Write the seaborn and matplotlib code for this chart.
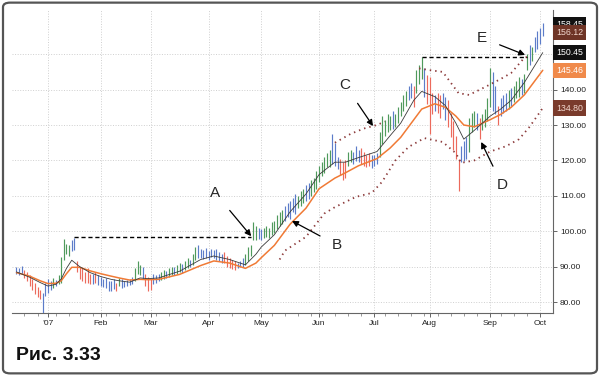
import numpy as np
import pandas as pd
import matplotlib
matplotlib.use("Agg")
import matplotlib.pyplot as plt
import matplotlib.transforms as mtransforms
from matplotlib.patches import FancyBboxPatch
import seaborn as sns

sns.set_theme(style="white")
plt.rcParams['font.family'] = ['Liberation Sans', 'DejaVu Sans']

# daily bars, Dec 13 2006 .. Oct 2 2007
high = [90.0, 89.5, 90.3, 89.0, 88.5, 87.5, 86.5, 85.5, 84.2, 83.5,
        82.5, 85.5, 86.5, 86.0, 86.8, 86.3, 87.5,
        92.8, 97.8, 96.5, 96.0, 97.5, 98.2,
        91.5, 90.0, 89.5, 88.5, 89.5, 88.0,
        87.8, 88.5, 87.5, 87.0, 86.5, 86.8, 86.0, 85.8, 86.5, 85.5,
        86.8, 86.5, 86.0, 86.3, 86.5, 87.0, 89.5, 91.5, 90.5, 90.0,
        88.0, 87.0, 86.5, 88.0, 87.5, 88.0, 88.5, 89.0, 88.8, 89.5,
        89.8, 90.0, 90.5, 91.0, 90.8, 91.5, 92.5, 92.0, 93.5, 95.5,
        96.0, 95.0, 94.8, 95.3, 94.5, 95.0, 94.8, 95.0, 94.0, 93.5,
        94.0, 93.0, 92.5, 92.0, 91.5, 91.0, 91.5, 92.5, 93.5, 95.5,
        96.0, 102.5, 101.5, 101.0, 100.5, 101.0, 101.5, 101.0, 102.5, 103.0,
        104.5, 105.5, 106.0, 107.0, 108.0, 108.5, 109.5, 110.5, 110.0, 111.5,
        112.0, 113.0, 113.5, 114.5, 115.0, 117.0, 118.5, 119.5, 121.0, 122.0,
        123.0, 127.5, 125.0, 121.0, 120.5, 119.5, 120.0, 122.5, 123.0, 122.5,
        124.0, 123.0, 123.5, 122.5, 121.5, 122.0, 121.5, 121.5, 122.0, 128.0,
        132.5, 131.5, 133.0, 132.5, 134.0, 133.0, 135.0, 136.5, 138.5, 139.5,
        141.0, 142.0, 141.0, 145.5, 147.0, 149.2, 146.0, 144.0, 143.5, 139.0,
        138.5, 139.0, 138.5, 139.0, 138.0, 137.0, 133.5, 131.0, 127.0, 120.5,
        124.0, 125.5, 126.5, 132.0, 133.5, 134.0, 133.5, 132.0, 133.0, 134.5,
        137.5, 146.0, 145.0, 141.0, 135.5, 137.5, 138.5, 139.0, 140.0, 140.5,
        141.0, 142.5, 143.5, 143.0, 144.5, 150.0, 152.5, 152.0, 155.0, 156.5,
        157.5, 158.8]
low = [87.8, 87.5, 88.0, 86.8, 85.8, 84.5, 83.5, 82.3, 81.5, 80.8,
       77.0, 81.8, 82.5, 83.5, 84.0, 84.5, 85.0,
       85.5, 92.0, 93.5, 93.0, 94.5, 94.8,
       88.5, 86.5, 86.0, 85.3, 85.5, 85.0,
       85.2, 85.5, 84.8, 84.5, 84.2, 84.0, 83.0, 83.2, 83.8, 83.0,
       84.5, 84.0, 84.2, 84.5, 84.8, 85.0, 86.0, 88.0, 87.5, 86.5,
       84.5, 83.0, 83.5, 85.0, 85.5, 86.0, 86.2, 86.5, 86.8, 87.2,
       87.5, 87.5, 88.0, 88.5, 88.2, 89.0, 89.5, 89.8, 90.5, 92.0,
       92.5, 92.5, 92.2, 92.5, 92.0, 92.8, 92.4, 92.0, 91.5, 91.0,
       91.0, 89.8, 89.5, 89.2, 89.0, 89.5, 89.8, 90.0, 90.5, 91.5,
       93.0, 97.5, 97.5, 97.8, 97.5, 98.0, 98.5, 98.0, 99.0, 99.5,
       100.5, 101.5, 102.0, 103.0, 104.0, 103.5, 105.5, 105.0, 106.5, 107.0,
       108.0, 108.5, 109.0, 110.0, 111.0, 112.0, 114.0, 115.5, 116.5, 118.0,
       118.0, 119.0, 118.5, 117.5, 116.0, 114.5, 115.0, 118.5, 119.5, 119.0,
       119.8, 119.5, 119.0, 118.5, 118.0, 118.5, 117.8, 118.5, 119.0, 121.0,
       124.5, 127.0, 128.0, 128.5, 129.0, 129.5, 130.5, 132.5, 134.0, 135.5,
       137.0, 137.5, 135.0, 139.0, 141.5, 143.0, 138.0, 136.0, 127.5, 133.0,
       134.0, 133.5, 132.0, 134.5, 131.5, 129.5, 126.5, 123.0, 120.5, 111.5,
       119.5, 119.8, 120.5, 122.5, 128.0, 129.5, 128.5, 126.0, 128.5, 129.5,
       131.0, 135.0, 134.0, 133.0, 130.0, 132.5, 133.5, 134.0, 134.5, 135.5,
       136.5, 137.5, 138.0, 138.5, 139.0, 145.5, 147.0, 148.0, 150.5, 151.5,
       153.0, 155.2]
impulse = ("bbbrrrrrrr" "bbbbgbg" "ggggbb" "rrrrrr"
           "brbbbbbbbr" "gbbbbbgggb" "rrrbbbggbg" "gbggbggbgg"
           "bbbbbbbbbb" "rrrrrbbbgg" "gggbbggggg" "gggbbbbbgg"
           "gbbggggggg" "gbbbrrrggb" "bbrrrrbbbg" "ggggbggggg"
           "bbrgggbrrr" "brrbbrrrrr" "bbbgggbrgg" "ggbbrbbbgb"
           "gggbggbgb" "bb" "b")

# moving averages and bands (bar index, value)
fast_x = [0, 5, 9, 12, 15, 17, 19, 21, 24, 28, 32, 36, 39, 43, 47, 50, 54, 62, 70, 75,
          81, 87, 91, 93, 98, 104, 110, 115, 121, 125, 130, 137, 142, 146, 151, 154,
          159, 163, 167, 170, 174, 180, 184, 188, 193, 200]
fast_y = [88.5, 87.0, 85.5, 84.5, 85.0, 86.5, 89.5, 91.8, 90.0, 88.3, 87.2, 86.4, 86.0,
          85.6, 86.8, 86.6, 86.8, 88.7, 92.0, 93.0, 92.0, 90.5, 93.5, 95.5, 99.0, 105.5,
          110.5, 116.0, 119.5, 119.5, 120.8, 122.5, 127.0, 130.5, 137.0, 139.5, 138.0,
          135.5, 130.5, 126.0, 128.5, 132.5, 134.5, 137.0, 142.0, 150.45]
slow_x = fast_x
slow_y = [88.3, 87.3, 86.0, 85.2, 85.3, 86.0, 88.0, 89.8, 89.8, 88.8, 88.0, 87.3, 86.8,
          86.2, 86.4, 86.3, 86.4, 87.8, 90.3, 91.6, 91.0, 89.5, 91.0, 92.5, 96.0, 102.0,
          106.5, 112.0, 115.0, 116.5, 118.5, 120.5, 123.5, 126.5, 131.5, 134.5, 136.0,
          135.0, 132.5, 130.0, 129.5, 131.5, 133.0, 135.0, 138.5, 145.46]
lower_x = [100, 102, 110, 117, 121, 129, 135, 139, 144, 149, 155, 162, 167, 169, 174,
           180, 186, 191, 195, 200]
lower_y = [92.0, 94.5, 98.4, 105.0, 106.8, 109.7, 110.8, 114.0, 120.0, 123.8, 126.3,
           125.2, 122.0, 119.3, 120.0, 122.5, 124.0, 126.0, 129.5, 134.8]
upper1_x = [121, 127, 132, 137, 140]
upper1_y = [125.0, 127.5, 129.0, 130.0, 131.0]
upper2_x = [153, 157, 162, 165, 168, 172, 178, 184, 188, 193, 194]
upper2_y = [146.0, 145.5, 145.0, 142.0, 139.0, 138.5, 140.7, 143.0, 144.7, 149.0, 149.2]

month_labels = ["\u201907", "Feb", "Mar", "Apr", "May", "Jun", "Jul", "Aug", "Sep", "Oct"]
last_values = [158.45, 156.12, 150.45, 145.46, 134.80]
last_colors = ["#111111", "#6e3426", "#111111", "#f08a4b", "#7a3b2c"]
last_text = ["white", "#f3d9cf", "white", "white", "#f3d9cf"]

holidays = ["2006-12-25", "2007-01-01", "2007-01-02", "2007-01-15", "2007-02-19",
            "2007-04-06", "2007-05-28", "2007-07-04", "2007-09-03"]
dates = pd.bdate_range("2006-12-13", periods=len(high), freq="C", holidays=holidays)
bars = pd.DataFrame({"i": np.arange(len(high)), "date": dates, "high": high,
                     "low": low, "impulse": list(impulse)})

pal = {"g": "#4f9a5c", "b": "#5c7cc9", "r": "#ec6a5c"}

fig = plt.figure(figsize=(6, 3.76), dpi=100)
fig.patch.set_facecolor("white")
fig.patches.append(FancyBboxPatch((0.005, 0.007), 0.99, 0.986,
                                  boxstyle="round,pad=0,rounding_size=0.012",
                                  transform=fig.transFigure, fc="none",
                                  ec="#555555", lw=1.6, zorder=-1))
ax = fig.add_axes([0.02, 0.1676, 0.9017, 0.8059])
ax.set_facecolor("none")

for key, grp in bars.groupby("impulse"):
    ax.vlines(grp["i"], grp["low"], grp["high"], color=pal[key], lw=0.85, zorder=3)

sns.lineplot(x=slow_x, y=slow_y, ax=ax, color="#f07a35", lw=1.1, zorder=4)
sns.lineplot(x=fast_x, y=fast_y, ax=ax, color="#3a3a3a", lw=0.6, zorder=5)
for bx, by in [(lower_x, lower_y), (upper1_x, upper1_y), (upper2_x, upper2_y)]:
    sns.lineplot(x=bx, y=by, ax=ax, color="#8c3b3b", lw=1.3,
                 linestyle=(0, (0.8, 2.2)), zorder=4)

# breakout levels
ax.hlines(98.3, 22, 89, color="black", lw=1.0, linestyles=(0, (3, 2)), zorder=5)
ax.hlines(149.2, 154, 194, color="black", lw=1.0, linestyles=(0, (3, 2)), zorder=5)

arrow = dict(arrowstyle="-|>", color="black", lw=0.9, mutation_scale=9,
             shrinkA=7, shrinkB=0)
for lab, tip, txt in [("A", (89.2, 98.6), (75.5, 110.8)),
                      ("B", (104.7, 102.9), (121.8, 96.1)),
                      ("C", (135.5, 129.7), (124.9, 141.3)),
                      ("D", (176.6, 125.2), (184.6, 113.0)),
                      ("E", (193.3, 149.8), (177.0, 154.6))]:
    ax.annotate(lab, xy=tip, xytext=txt, fontsize=11, ha="center", va="center",
                arrowprops=arrow, zorder=6)

# axes
month_pos = bars[bars["date"] >= "2007-01-01"].groupby(
    bars["date"].dt.to_period("M"))["i"].min().values
week_pos = bars["i"][bars["date"].dt.weekday.diff() < 0].values
ax.set_xticks(month_pos)
ax.set_xticklabels(month_labels)
ax.set_xticks(week_pos, minor=True)
ax.set_xlim(-1.7, 203.9)
ax.set_ylim(76.9, 162.5)
ax.yaxis.tick_right()
ax.set_yticks(np.arange(80, 151, 10))
ax.set_yticklabels([f"{v:.2f}" if v < 150 else "" for v in np.arange(80, 151, 10)])
ax.tick_params(axis="both", which="major", labelsize=6, length=3, width=0.7,
               color="#666666", pad=2, labelcolor="#222222")
ax.tick_params(axis="x", which="minor", length=2, width=0.6, color="#888888")
ax.tick_params(axis="x", bottom=True, which="both")
ax.grid(True, which="major", ls=":", color="#cfcfcf", lw=0.7)
for side in ["left", "top"]:
    ax.spines[side].set_visible(False)
for side in ["right", "bottom"]:
    ax.spines[side].set_color("#666666")
    ax.spines[side].set_linewidth(0.8)
ax.set_xlabel("")
ax.set_ylabel("")

trans = mtransforms.blended_transform_factory(ax.transAxes, ax.transData)
for v, fc, tc in zip(last_values, last_colors, last_text):
    ax.text(1.006, v, f"{v:.2f}", transform=trans, ha="left", va="center",
            fontsize=6.3, color=tc, zorder=7, clip_on=False,
            bbox=dict(boxstyle="square,pad=0.35", fc=fc, ec="none"))

fig.text(16 / 600, 1 - 360 / 376, "Рис. 3.33", fontsize=14, weight="bold",
         ha="left", va="baseline", color="#111111")

fig.savefig("out.png", dpi=100)
